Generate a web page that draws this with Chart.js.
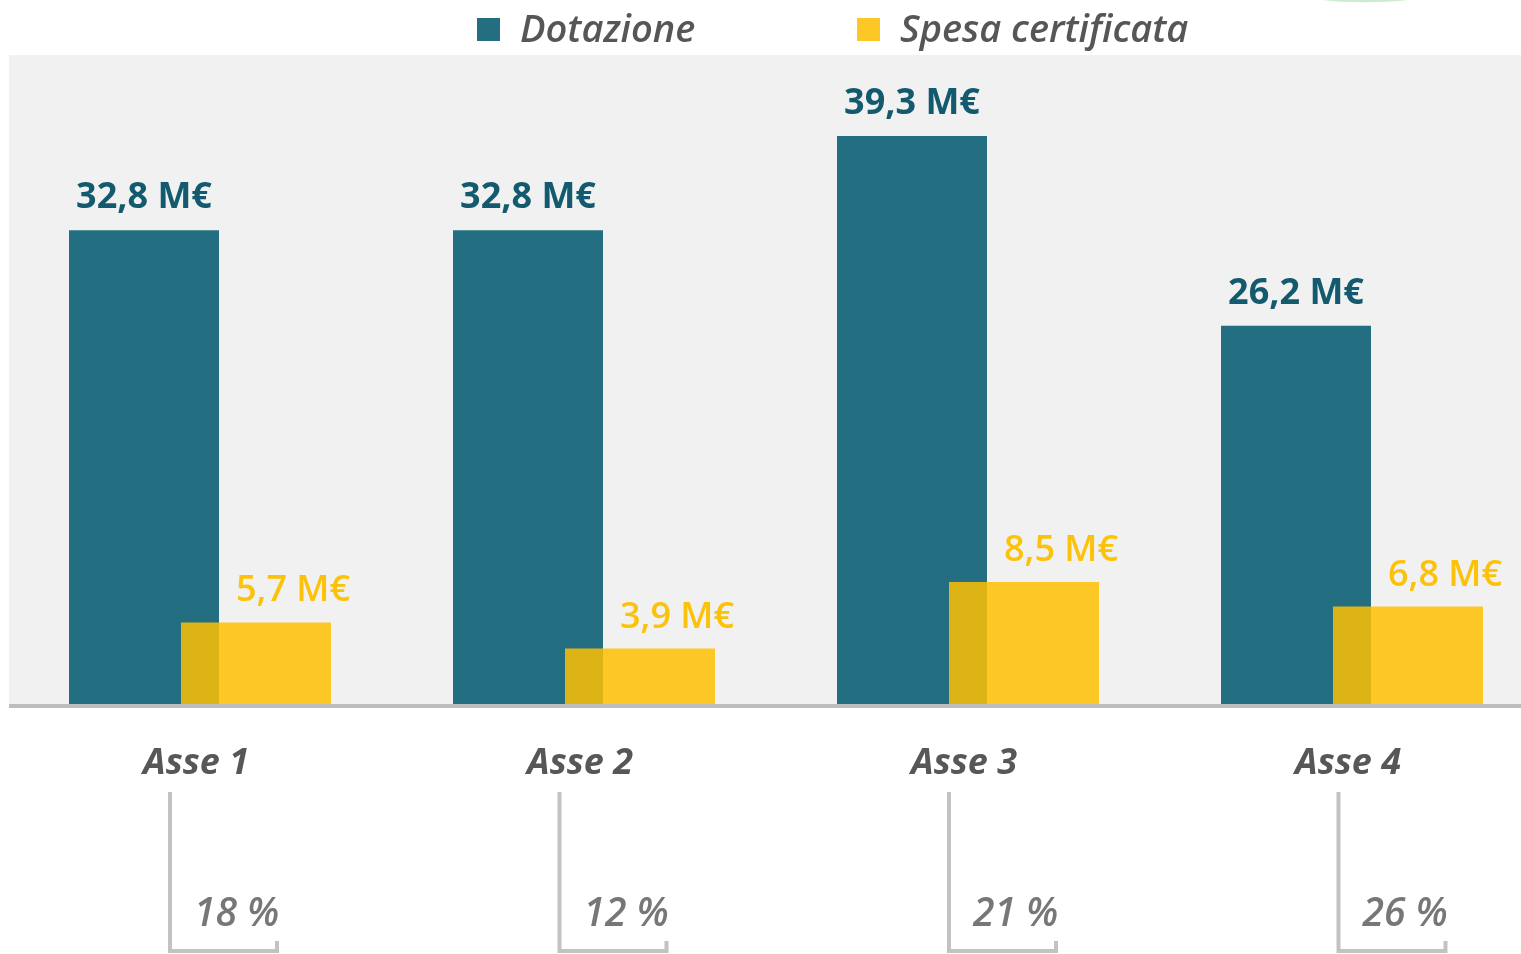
<!DOCTYPE html>
<html>
<head>
<meta charset="utf-8">
<script src="https://cdn.jsdelivr.net/npm/chart.js@4"></script>
<style>
  html, body { margin: 0; padding: 0; background: #fff; overflow: hidden; }
  #wrap { width: 1544px; height: 954px; }
</style>
</head>
<body>
<div id="wrap"><canvas id="grafico" width="1544" height="954"></canvas></div>
<script>
// dati
const assi = ["Asse 1", "Asse 2", "Asse 3", "Asse 4"];
const dotazione = [32.8, 32.8, 39.3, 26.2];
const spesaCertificata = [5.7, 3.9, 8.5, 6.8];
const percentuali = ["18 %", "12 %", "21 %", "26 %"];

const BLU = "#236e80";
const GIALLO = "rgba(255, 192, 2, 0.85)";
const GIALLO_LEGENDA = "#fdc726";
const FONT = "'Open Sans', Lato, sans-serif";

const fmt = v => v.toFixed(1).replace(".", ",") + " M€";

// la serie gialla va disegnata sopra quella blu (Chart.js fa il contrario)
const ordineDisegno = {
    id: "ordineDisegno",
    beforeDatasetDraw(chart, args) {
        if (args.index === 1) return false;
    },
    afterDatasetDraw(chart, args) {
        if (args.index === 0) chart.getDatasetMeta(1).controller.draw();
    }
};

const decorazioni = {
    id: "decorazioni",
    beforeDraw(chart) {
        const { ctx, chartArea } = chart;
        ctx.save();
        ctx.fillStyle = "#f1f1f1";
        ctx.fillRect(9, chartArea.top, chart.width - 9, chartArea.bottom - chartArea.top);

        // arco verde in alto a destra (tagliato)
        ctx.strokeStyle = "rgba(160, 220, 170, 0.55)";
        ctx.lineWidth = 2.5;
        ctx.beginPath();
        ctx.ellipse(1365, -12, 76, 13, 0, 0, Math.PI);
        ctx.stroke();

        // legenda
        const ds = chart.data.datasets;
        const voci = [
            { x: 477, colore: BLU, testo: ds[0].label },
            { x: 857, colore: GIALLO_LEGENDA, testo: ds[1].label }
        ];
        ctx.font = "italic 600 38px " + FONT;
        ctx.textBaseline = "alphabetic";
        ctx.textAlign = "left";
        voci.forEach(v => {
            ctx.fillStyle = v.colore;
            ctx.fillRect(v.x, 18, 23, 23);
            ctx.fillStyle = "#565656";
            ctx.fillText(v.testo, v.x + 43, 42);
        });
        ctx.restore();
    },
    afterDatasetsDraw(chart) {
        const { ctx, chartArea, scales } = chart;
        ctx.save();

        // linea di base
        ctx.strokeStyle = "#bdbdbd";
        ctx.lineWidth = 4;
        ctx.beginPath();
        ctx.moveTo(9, chartArea.bottom + 1);
        ctx.lineTo(chart.width, chartArea.bottom + 1);
        ctx.stroke();

        // etichette dei valori
        const metaBlu = chart.getDatasetMeta(0);
        const metaGiallo = chart.getDatasetMeta(1);
        ctx.textBaseline = "alphabetic";
        ctx.font = "bold 36px " + FONT;
        ctx.fillStyle = "#135a6e";
        ctx.textAlign = "center";
        metaBlu.data.forEach((bar, i) => {
            ctx.fillText(fmt(dotazione[i]), bar.x, bar.y - 22);
        });
        ctx.font = "600 36px " + FONT;
        ctx.fillStyle = "#fcc20a";
        ctx.textAlign = "left";
        metaGiallo.data.forEach((bar, i) => {
            ctx.fillText(fmt(spesaCertificata[i]), bar.x - 20, bar.y - 21);
        });

        // etichette assi, parentesi e percentuali
        assi.forEach((nome, i) => {
            const cx = scales.x.getPixelForValue(i);
            ctx.font = "italic bold 36px " + FONT;
            ctx.fillStyle = "#575757";
            ctx.textAlign = "center";
            ctx.fillText(nome, cx - 4, 774);

            const bx = cx - 30 + 5.5 * i;
            ctx.strokeStyle = "#c2c2c2";
            ctx.lineWidth = 4;
            ctx.beginPath();
            ctx.moveTo(bx, 792);
            ctx.lineTo(bx, 951);
            ctx.lineTo(bx + 107, 951);
            ctx.lineTo(bx + 107, 941);
            ctx.stroke();

            ctx.font = "italic 600 39px " + FONT;
            ctx.fillStyle = "#777777";
            ctx.textAlign = "left";
            ctx.fillText(percentuali[i], bx + 24, 926);
        });
        ctx.restore();
    }
};

new Chart(document.querySelector("#grafico"), {
    type: "bar",
    data: {
        labels: assi,
        datasets: [
            {
                label: "Dotazione",
                data: dotazione,
                backgroundColor: BLU,
                borderWidth: 0
            },
            {
                label: "Spesa certificata",
                data: spesaCertificata,
                backgroundColor: GIALLO,
                borderWidth: 0
            }
        ]
    },
    options: {
        responsive: false,
        devicePixelRatio: 1,
        animation: false,
        categoryPercentage: 224 / 384,
        barPercentage: 150 / 112,
        layout: { padding: { top: 55, bottom: 249, left: 8, right: 0 } },
        plugins: {
            legend: { display: false },
            tooltip: { enabled: false }
        },
        scales: {
            x: { display: false },
            y: { display: false, min: 0, max: 44.9 }
        }
    },
    plugins: [ordineDisegno, decorazioni]
});
</script>
</body>
</html>
